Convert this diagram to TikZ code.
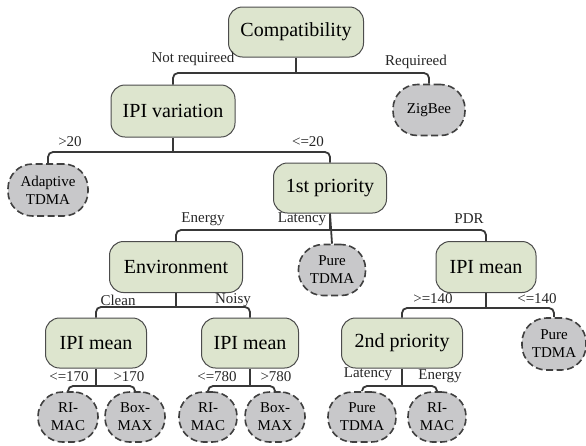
\documentclass[tikz,border=0pt]{standalone}
\usepackage{fontspec}
\setmainfont{Liberation Serif}
\begin{document}
\begin{tikzpicture}[x=1pt,y=-1pt,
  dec/.style={draw=black!70, fill=decfill, line width=1pt, rounded corners=14pt,
    minimum height=50pt, inner sep=0pt, font=\fontsize{20}{22}\selectfont},
  leaf/.style={draw=black!75, fill=leaffill, line width=1.6pt, dash pattern=on 7pt off 3.5pt,
    rounded corners=24.5pt, minimum height=50pt, minimum width=60pt, inner sep=0pt,
    align=center, font=\fontsize{15}{18}\selectfont},
  bar/.style={draw=black!78, line width=1.8pt, rounded corners=5pt},
  stem/.style={draw=black!78, line width=2.8pt},
  lab/.style={font=\fontsize{15}{17}\selectfont, inner sep=0pt, text=black!85}]
\definecolor{decfill}{HTML}{DDE5CE}
\definecolor{leaffill}{HTML}{C8C8CA}
\useasboundingbox (0,0) rectangle (586,445);

% decision nodes
\node[dec, minimum width=135pt] (comp) at (296,32) {Compatibility};
\node[dec, minimum width=124pt, minimum height=52pt] (ipiv) at (173,111) {IPI variation};
\node[dec, minimum width=113pt] (prio1) at (330,188) {1st priority};
\node[dec, minimum width=133pt, minimum height=51pt] (env) at (176,267) {Environment};
\node[dec, minimum width=100pt, minimum height=51pt] (ipim) at (486,267) {IPI mean};
\node[dec, minimum width=101pt] (ipim1) at (96,343) {IPI mean};
\node[dec, minimum width=97pt] (ipim2) at (250,343) {IPI mean};
\node[dec, minimum width=121pt] (prio2) at (402,343) {2nd priority};

% leaves
\node[leaf, minimum width=72pt, minimum height=51pt] (zig) at (429,110) {ZigBee};
\node[leaf, minimum width=80pt, minimum height=52pt] (adapt) at (48,190) {Adaptive\\TDMA};
\node[leaf, minimum width=67pt, minimum height=51pt] (pure1) at (332,270) {Pure\\TDMA};
\node[leaf, minimum width=64pt, minimum height=52pt] (pure3) at (554,344) {Pure\\TDMA};
\node[leaf] (rimac1) at (68,417) {RI-\\MAC};
\node[leaf] (boxmax1) at (135,417) {Box-\\MAX};
\node[leaf, minimum width=58pt] (rimac2) at (208,417) {RI-\\MAC};
\node[leaf] (boxmax2) at (275,417) {Box-\\MAX};
\node[leaf, minimum width=68pt] (pure2) at (362,417) {Pure\\TDMA};
\node[leaf, minimum width=58pt] (rimac3) at (437,417) {RI-\\MAC};

% bar levels
\coordinate (b0) at (0,73);
\coordinate (b1) at (0,152);
\coordinate (b2) at (0,230);
\coordinate (b3) at (0,307);
\coordinate (b4) at (0,308);
\coordinate (b5) at (0,386);

% connectors
\draw[bar] (ipiv.north) |- (b0 -| comp.south) -| (zig.north);
\draw[stem] (comp.south) -- (b0 -| comp.south);

\draw[bar] (adapt.north) |- (b1 -| ipiv.south) -| (prio1.north);
\draw[stem] (ipiv.south) -- (b1 -| ipiv.south);

\draw[bar] (env.north) |- (b2 -| prio1.south) -| (ipim.north);
\draw[bar] (prio1.south) -- (pure1.north);
\draw[stem] (prio1.south) -- (b2 -| prio1.south);

\draw[bar] (ipim1.north) |- (b3 -| env.south) -| (ipim2.north);
\draw[stem] (env.south) -- (b3 -| env.south);

\draw[bar] (prio2.north) |- (b4 -| ipim.south) -| (pure3.north);
\draw[stem] (ipim.south) -- (b4 -| ipim.south);

\draw[bar] (rimac1.north) |- (b5 -| ipim1.south) -| (boxmax1.north);
\draw[stem] (ipim1.south) -- (b5 -| ipim1.south);

\draw[bar] (rimac2.north) |- (b5 -| ipim2.south) -| (boxmax2.north);
\draw[stem] (ipim2.south) -- (b5 -| ipim2.south);

\draw[bar] (pure2.north) |- (b5 -| prio2.south) -| (rimac3.north);
\draw[stem] (prio2.south) -- (b5 -| prio2.south);

% labels
\node[lab] (l1) at (193,59) {Not requireed};
\node[lab] (l2) at (416,62) {Requireed};
\node[lab] (l3) at (70,142) {>20};
\node[lab] (l4) at (308,142) {<=20};
\node[lab] (l5) at (203,219) {Energy};
\node[lab] (l6) at (302,219) {Latency};
\node[lab] (l7) at (469,219) {PDR};
\node[lab] (l8) at (118,300) {Clean};
\node[lab] (l9) at (233,300) {Noisy};
\node[lab] (l10) at (433,299) {>=140};
\node[lab] (l11) at (537,299) {<=140};
\node[lab] (l12) at (69,377) {<=170};
\node[lab] (l13) at (129,377) {>170};
\node[lab] (l14) at (217,377) {<=780};
\node[lab] (l15) at (276,377) {>780};
\node[lab] (l16) at (368,374) {Latency};
\node[lab] (l17) at (440,376) {Energy};
\end{tikzpicture}
\end{document}
